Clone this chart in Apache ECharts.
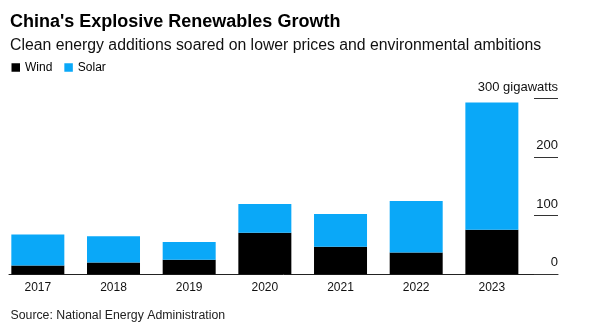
<!DOCTYPE html>
<html>
<head>
<meta charset="utf-8">
<script src="https://cdn.jsdelivr.net/npm/echarts@6/dist/echarts.min.js"></script>
<style>
html,body{margin:0;padding:0;background:#fff;}
#chart{width:596px;height:333px;}
</style>
</head>
<body>
<div id="chart"></div>
<script>
// Data
var years = ['2017', '2018', '2019', '2020', '2021', '2022', '2023'];
var wind = [15, 20, 25, 71, 47, 37, 76];
var solar = [53, 45, 30, 49, 56, 88, 217];
var yMin = 0, yMax = 300, yStep = 100;
var yUnit = 'gigawatts';

var FONT = '"Liberation Sans", Arial, Helvetica, sans-serif';
var chart = echarts.init(document.getElementById('chart'), null, {renderer: 'canvas'});

var option = {
  animation: false,
  backgroundColor: '#ffffff',
  textStyle: {fontFamily: FONT},
  title: [
    {text: "China's Explosive Renewables Growth", left: 10, top: 13, padding: 0,
     textStyle: {fontFamily: FONT, fontSize: 18, fontWeight: 'bold', color: '#000'}},
    {text: 'Clean energy additions soared on lower prices and environmental ambitions', left: 10, top: 37.5, padding: 0,
     textStyle: {fontFamily: FONT, fontSize: 15.8, fontWeight: 'normal', color: '#111'}},
    {text: 'Source: National Energy Administration', left: 10.5, top: 309.5, padding: 0,
     textStyle: {fontFamily: FONT, fontSize: 12.3, fontWeight: 'normal', color: '#222'}}
  ],
  legend: {
    left: 11.5, top: 61.5, icon: 'rect', itemWidth: 8.5, itemHeight: 8.5, itemGap: 12,
    padding: 0,
    textStyle: {fontFamily: FONT, fontSize: 12, color: '#000'},
    data: ['Wind', 'Solar']
  },
  grid: [
    {left: -2.3, width: 532, top: 98.5, bottom: 58.7, containLabel: false},
    {left: 9, right: 38, top: 98.5, bottom: 58.7, containLabel: false}
  ],
  xAxis: [
    {
      type: 'category', gridIndex: 0, data: years,
      axisLine: {show: false}, axisTick: {show: false}, splitLine: {show: false},
      axisLabel: {fontFamily: FONT, fontSize: 12, color: '#111', margin: 7}
    },
    {
      type: 'value', gridIndex: 1, min: 0, max: 1,
      axisLine: {show: true, onZero: false, lineStyle: {color: '#222', width: 1}},
      axisTick: {show: false}, splitLine: {show: false}, axisLabel: {show: false}
    }
  ],
  yAxis: [
    {
      type: 'value', gridIndex: 0, min: yMin, max: yMax, interval: yStep, show: false
    },
    {
      type: 'value', gridIndex: 1, position: 'right', min: yMin, max: yMax, interval: yStep,
      axisLine: {show: false, onZero: false},
      axisTick: {show: true, inside: true, length: 24, lineStyle: {color: '#333', width: 1}},
      splitLine: {show: false},
      axisLabel: {
        inside: true, margin: 0, verticalAlign: 'bottom', align: 'right',
        padding: [0, 0, 5, 0],
        fontFamily: FONT, fontSize: 13, color: '#111',
        formatter: function (v) { return v === yMax ? v + ' ' + yUnit : String(v); }
      }
    }
  ],
  series: [
    {name: 'Wind', type: 'bar', stack: 'total', barWidth: 53, xAxisIndex: 0, yAxisIndex: 0,
     data: wind, itemStyle: {color: '#000000'}},
    {name: 'Solar', type: 'bar', stack: 'total', barWidth: 53, xAxisIndex: 0, yAxisIndex: 0,
     data: solar, itemStyle: {color: '#0aa8f8'}}
  ]
};
chart.setOption(option);
</script>
</body>
</html>
